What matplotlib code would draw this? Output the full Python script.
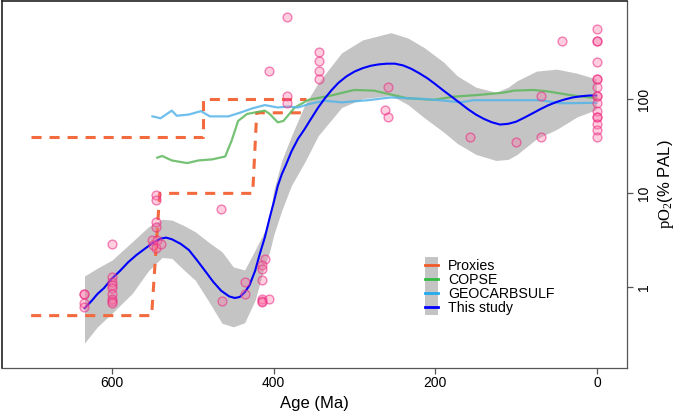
import matplotlib
matplotlib.use("Agg")
import matplotlib.pyplot as plt
from matplotlib.patches import Rectangle
from matplotlib.lines import Line2D
from matplotlib.legend_handler import HandlerPatch
from matplotlib.ticker import FixedLocator, NullLocator

plt.rcParams['font.family'] = ['Liberation Sans', 'DejaVu Sans']
plt.rcParams['mathtext.fontset'] = 'custom'
plt.rcParams['mathtext.rm'] = 'Liberation Serif'

# Proxies: upper and lower bounds (step lines)
prox_up_age = [700, 488, 488, 360]
prox_up_val = [40, 40, 100, 100]
prox_lo_age = [700, 551, 541, 426, 421, 365]
prox_lo_val = [0.5, 0.5, 10, 10, 72, 72]

# COPSE
copse_age = [544, 538, 526, 507, 493, 476, 460, 452, 444, 433, 411, 405, 395, 388, 374, 357,
             329, 304, 300, 276, 235, 202, 177, 144, 116, 103, 79, 62, 30, 1]
copse_val = [24, 25, 22.4, 21, 22.4, 23, 24.7, 36.5, 59, 70, 76, 70, 57, 59, 82, 99,
             110, 124, 126, 124, 103, 99, 107, 112, 118, 124, 126, 122, 110, 103]

# GEOCARBSULF
geo_age = [550, 540, 526, 520, 505, 490, 479, 456, 440, 427, 411, 395, 382, 370, 357, 337,
           316, 284, 255, 214, 194, 169, 153, 111, 70, 46, 1]
geo_val = [66, 63, 76, 67, 69, 75, 66, 66, 73, 80, 87, 82, 84, 82, 89, 97,
           93, 98, 105, 101, 98, 93, 98, 98, 98, 91, 92]

# This study: model curve
model_age = [634, 625, 618, 610, 600, 590, 580, 570, 560, 550, 540, 533, 526, 515, 505, 495,
             485, 475, 465, 455, 448, 442, 436, 430, 423, 417, 411, 405, 400, 395, 390, 385,
             378, 370, 362, 355, 345, 337, 329, 320, 310, 300, 290, 280, 270, 260, 250, 240,
             230, 220, 210, 200, 190, 180, 170, 160, 150, 140, 130, 120, 110, 100, 90, 80,
             70, 60, 50, 40, 30, 20, 10, 1]
model_val = [0.6, 0.72, 0.85, 0.98, 1.24, 1.5, 1.85, 2.2, 2.55, 2.95, 3.3, 3.38, 3.25, 2.9, 2.5, 1.95,
             1.5, 1.15, 0.92, 0.8, 0.77, 0.79, 0.88, 1.05, 1.5, 2.3, 3.4, 5.5, 8, 12, 16, 20,
             28, 38, 48, 60, 82, 102, 124, 150, 176, 198, 215, 228, 236, 240, 240, 230,
             212, 190, 168, 145, 124, 107, 92, 79, 69, 62, 57, 54, 55, 58, 64, 71,
             79, 87, 94, 100, 105, 108, 110, 110]

# confidence band
band_age = [634, 618, 600, 575, 555, 538, 526, 510, 497, 480, 464, 450, 436, 423, 411, 405,
            400, 390, 378, 362, 345, 316, 290, 255, 234, 214, 190, 173, 150, 125, 110, 99,
            75, 50, 25, 1]
band_hi = [1.32, 1.6, 1.95, 3.05, 4.4, 5.3, 5.2, 4.5, 3.9, 3.0, 2.39, 1.65, 1.53, 2.49, 4.0, 5.8,
           10.8, 22.4, 41, 86, 150, 313, 430, 513, 450, 356, 250, 178, 135, 119, 135, 158,
           200, 210, 190, 165]
band_lo = [0.255, 0.38, 0.53, 0.86, 1.5, 2.08, 2.03, 1.5, 1.19, 0.7, 0.415, 0.38, 0.42, 0.73, 1.73, 2.4,
           3.6, 6.6, 12.2, 21.2, 41, 82, 102, 110, 88, 64, 45, 34, 26, 22.4, 23, 26,
           38, 48, 65, 78]

# proxy data points
pt_age = [635, 635, 635, 635,
          600, 600, 600, 600, 600, 600, 600, 600, 600,
          546, 546, 546, 546, 550, 549, 546, 544, 539,
          465, 464, 436, 436,
          411, 415, 415, 415, 415, 415, 415, 406,
          406, 383, 383, 383, 344, 344, 344, 344,
          259, 262, 259, 157, 100, 70, 70, 43,
          0, 0, 0, 0, 0, 0, 0, 0, 0, 0, 0, 0, 0, 0, 0, 0]
pt_val = [0.85, 0.84, 0.68, 0.61,
          2.9, 1.3, 1.15, 1.06, 0.98, 0.85, 0.76, 0.72, 0.68,
          9.5, 8.4, 5.0, 4.4, 3.2, 2.8, 2.6, 3.2, 2.9,
          6.9, 0.72, 1.13, 0.84,
          2.0, 1.72, 1.55, 1.19, 0.76, 0.72, 0.70, 0.75,
          201, 753, 109, 91, 323, 255, 201, 163,
          134, 77, 65, 40, 35, 110, 40, 419,
          557, 418, 418, 253, 164, 164, 134, 110, 110, 92, 76, 65, 65, 55, 47, 40]

c_prox = '#F26A3D'
c_copse = '#5DB85D'
c_geo = '#56B4E9'
c_model = '#0000FF'
c_band = '#C4C4C4'

fig = plt.figure(figsize=(6.75, 4.11), dpi=100)
ax = fig.add_axes([0.003, 0.105, 0.926, 0.893])

ax.fill_between(band_age, band_lo, band_hi, color=c_band, lw=0, zorder=1)
ax.plot(prox_up_age, prox_up_val, color=c_prox, lw=2.2, dashes=(3.3, 2.6), zorder=2)
ax.plot(prox_lo_age, prox_lo_val, color=c_prox, lw=2.2, dashes=(3.3, 2.6), zorder=2)
ax.plot(copse_age, copse_val, color=c_copse, lw=1.6, alpha=0.85, zorder=3)
ax.plot(geo_age, geo_val, color=c_geo, lw=1.6, alpha=0.85, zorder=3)
ax.plot(model_age, model_val, color=c_model, lw=1.5, zorder=4)
ax.scatter(pt_age, pt_val, s=40, facecolor=(1.0, 0.45, 0.65, 0.35),
           edgecolor=(0.92, 0.15, 0.5, 0.55), lw=1.0, zorder=5)

ax.set_yscale('log')
ax.set_xlim(736, -37)
ax.set_ylim(0.139, 1120)

ax.xaxis.set_major_locator(FixedLocator([600, 400, 200, 0]))
ax.yaxis.set_major_locator(FixedLocator([1, 10, 100]))
ax.yaxis.set_minor_locator(NullLocator())
ax.set_yticklabels(['1', '10', '100'])
ax.yaxis.tick_right()
ax.yaxis.set_label_position('right')
ax.tick_params(axis='both', direction='out', length=4, width=0.9, color='#555555',
               labelsize=10, pad=2)
ax.tick_params(axis='y', labelrotation=90, pad=3)
for lab in ax.get_yticklabels():
    lab.set_va('center')

for side in ['top', 'left']:
    ax.spines[side].set_color('#222222')
    ax.spines[side].set_linewidth(1.2)
for side in ['right', 'bottom']:
    ax.spines[side].set_color('#555555')
    ax.spines[side].set_linewidth(0.9)

ax.set_xlabel('Age (Ma)', fontsize=12, labelpad=4)
ax.set_ylabel(r'$\mathrm{pO_2}$(% PAL)', fontsize=12, rotation=90, labelpad=4)


# gray key background: stretch each patch so the column looks continuous
def tall_patch(legend, orig_handle, xdescent, ydescent, width, height, fontsize):
    extra = 2.0
    return Rectangle((-xdescent, -ydescent - extra), width, height + 2 * extra)


handles = [
    (Rectangle((0, 0), 1, 1, color=c_band, lw=0), Line2D([], [], color='#F05A28', lw=2)),
    (Rectangle((0, 0), 1, 1, color=c_band, lw=0), Line2D([], [], color='#33BB44', lw=2)),
    (Rectangle((0, 0), 1, 1, color=c_band, lw=0), Line2D([], [], color='#22AAEE', lw=2)),
    (Rectangle((0, 0), 1, 1, color=c_band, lw=0), Line2D([], [], color=c_model, lw=2)),
]
labels = ['Proxies', 'COPSE', 'GEOCARBSULF', 'This study']
ax.legend(handles, labels, loc='upper left', bbox_to_anchor=(0.677, 0.297),
          frameon=False, fontsize=10.2, handlelength=0.9, handleheight=0.8,
          handletextpad=0.7, labelspacing=0.0, borderpad=0, borderaxespad=0,
          handler_map={Rectangle: HandlerPatch(patch_func=tall_patch)})

fig.savefig('out.png', dpi=100)
